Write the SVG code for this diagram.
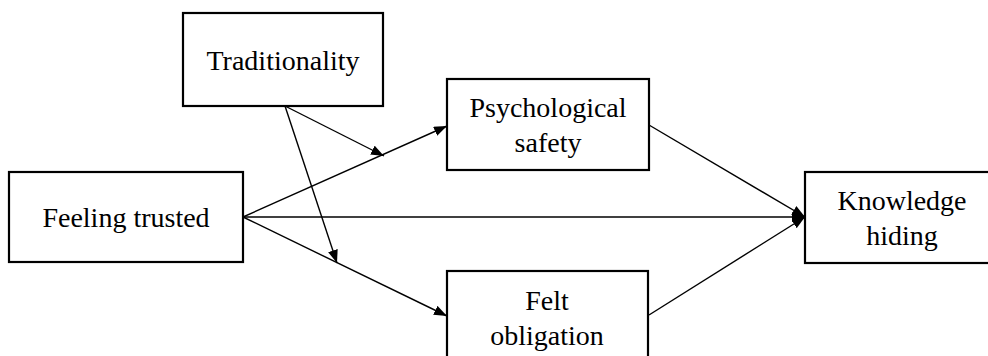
<svg xmlns="http://www.w3.org/2000/svg" width="988" height="356" viewBox="0 0 988 356">
<style>
.box{fill:#fff;stroke:#000;stroke-width:2.2}
.lbl{font-family:"Liberation Serif","Times New Roman",serif;font-size:28px;fill:#000;text-anchor:middle}
.edge{stroke:#000;stroke-width:1.4;fill:none;marker-end:url(#ah)}
</style>
<defs>
<marker id="ah" markerUnits="userSpaceOnUse" markerWidth="14" markerHeight="12" refX="13" refY="5" orient="auto">
<path d="M0,0 L13,5 L0,10 Z" fill="#000"/>
</marker>
</defs>
<rect width="988" height="356" fill="#fff"/>
<g id="connectors">
<line class="edge" x1="243" y1="217" x2="447" y2="126"/>
<line class="edge" x1="243" y1="217" x2="805" y2="217"/>
<line class="edge" x1="243" y1="217" x2="447" y2="316"/>
<line class="edge" x1="649" y1="125" x2="805" y2="217"/>
<line class="edge" x1="649" y1="315" x2="805" y2="217"/>
<line class="edge" x1="285" y1="106" x2="384" y2="156"/>
<line class="edge" x1="285" y1="106" x2="337" y2="263"/>
</g>
<g id="traditionality">
<rect class="box" x="183" y="13" width="200" height="93"/>
<text class="lbl" x="283" y="70">Traditionality</text>
</g>
<g id="feeling-trusted">
<rect class="box" x="9" y="172" width="234" height="90"/>
<text class="lbl" x="126" y="227">Feeling trusted</text>
</g>
<g id="psychological-safety">
<rect class="box" x="447" y="79" width="202" height="91"/>
<text class="lbl" x="548" y="117">Psychological</text>
<text class="lbl" x="548" y="152">safety</text>
</g>
<g id="felt-obligation">
<rect class="box" x="447" y="271" width="201" height="100"/>
<text class="lbl" x="547" y="310">Felt</text>
<text class="lbl" x="547" y="345">obligation</text>
</g>
<g id="knowledge-hiding">
<rect class="box" x="805" y="172" width="200" height="91"/>
<text class="lbl" x="902" y="210">Knowledge</text>
<text class="lbl" x="902" y="245">hiding</text>
</g>
</svg>
